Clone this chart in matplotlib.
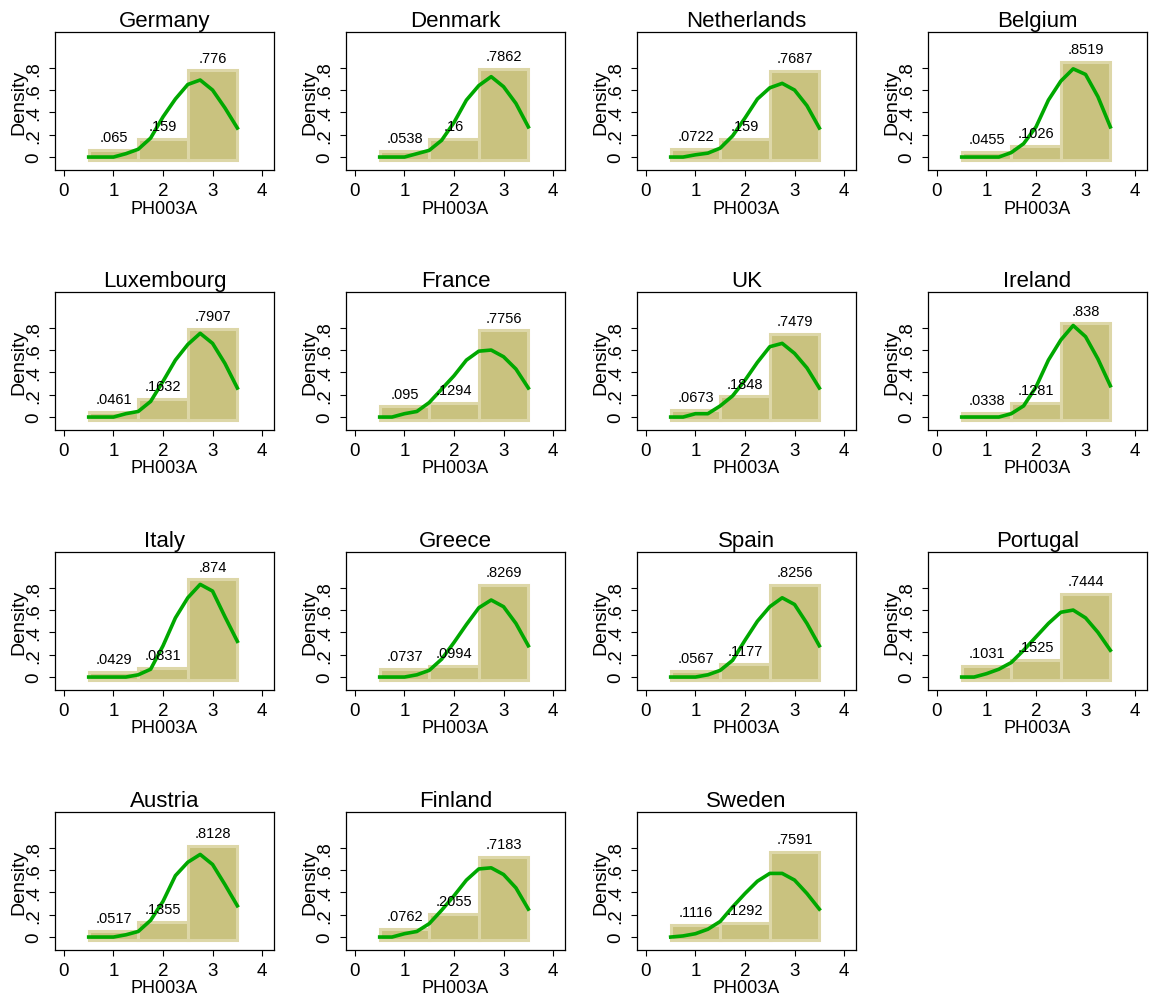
import matplotlib
matplotlib.use('Agg')
import matplotlib.pyplot as plt

plt.rcParams['font.family'] = ['Liberation Sans', 'DejaVu Sans']

countries = ['Germany', 'Denmark', 'Netherlands', 'Belgium',
             'Luxembourg', 'France', 'UK', 'Ireland',
             'Italy', 'Greece', 'Spain', 'Portugal',
             'Austria', 'Finland', 'Sweden']

# histogram densities for answers 1, 2, 3
categories = [1, 2, 3]
bar1 = [.065, .0538, .0722, .0455, .0461, .095, .0673, .0338, .0429, .0737, .0567, .1031, .0517, .0762, .1116]
bar2 = [.159, .16, .159, .1026, .1632, .1294, .1848, .1281, .0831, .0994, .1177, .1525, .1355, .2055, .1292]
bar3 = [.776, .7862, .7687, .8519, .7907, .7756, .7479, .838, .874, .8269, .8256, .7444, .8128, .7183, .7591]

# kernel density
kx = [0.5, 0.75, 1.0, 1.25, 1.5, 1.75, 2.0, 2.25, 2.5, 2.75, 3.0, 3.25, 3.5]
kd_germany     = [0, 0, 0, 0.03, 0.07, 0.17, 0.36, 0.52, 0.65, 0.69, 0.60, 0.44, 0.26]
kd_denmark     = [0, 0, 0, 0.03, 0.06, 0.15, 0.31, 0.51, 0.64, 0.72, 0.63, 0.48, 0.27]
kd_netherlands = [0, 0, 0.02, 0.035, 0.08, 0.19, 0.35, 0.52, 0.62, 0.66, 0.60, 0.46, 0.26]
kd_belgium     = [0, 0, 0, 0, 0.04, 0.12, 0.27, 0.51, 0.68, 0.79, 0.74, 0.54, 0.27]
kd_luxembourg  = [0, 0, 0, 0.03, 0.05, 0.14, 0.32, 0.51, 0.65, 0.75, 0.66, 0.48, 0.26]
kd_france      = [0, 0, 0.03, 0.05, 0.13, 0.25, 0.37, 0.51, 0.59, 0.60, 0.54, 0.43, 0.26]
kd_uk          = [0, 0, 0.03, 0.03, 0.10, 0.19, 0.33, 0.49, 0.63, 0.66, 0.57, 0.44, 0.26]
kd_ireland     = [0, 0, 0, 0, 0.03, 0.10, 0.27, 0.51, 0.69, 0.82, 0.72, 0.52, 0.28]
kd_italy       = [0, 0, 0, 0, 0.02, 0.07, 0.28, 0.53, 0.71, 0.83, 0.77, 0.54, 0.32]
kd_greece      = [0, 0, 0, 0.02, 0.06, 0.16, 0.31, 0.47, 0.62, 0.69, 0.63, 0.48, 0.28]
kd_spain       = [0, 0, 0, 0.02, 0.06, 0.15, 0.33, 0.50, 0.63, 0.71, 0.65, 0.48, 0.28]
kd_portugal    = [0, 0, 0.03, 0.07, 0.13, 0.24, 0.36, 0.48, 0.58, 0.60, 0.53, 0.40, 0.24]
kd_austria     = [0, 0, 0, 0.02, 0.05, 0.15, 0.32, 0.55, 0.67, 0.74, 0.65, 0.47, 0.28]
kd_finland     = [0, 0, 0.03, 0.05, 0.12, 0.24, 0.37, 0.51, 0.61, 0.62, 0.56, 0.44, 0.25]
kd_sweden      = [0, 0.01, 0.03, 0.07, 0.14, 0.27, 0.39, 0.50, 0.57, 0.57, 0.51, 0.39, 0.25]

kdens = [kd_germany, kd_denmark, kd_netherlands, kd_belgium,
         kd_luxembourg, kd_france, kd_uk, kd_ireland,
         kd_italy, kd_greece, kd_spain, kd_portugal,
         kd_austria, kd_finland, kd_sweden]

yticks = [0, .2, .4, .6, .8]
ytick_labels = ['0', '.2', '.4', '.6', '.8']
xticks = [0, 1, 2, 3, 4]

W, H = 1153, 1003
fig = plt.figure(figsize=(W / 100, H / 100), dpi=100)

col_left = [55, 346, 637, 928]
row_top = [33, 293, 553, 813]
bw, bh = 219, 138

fill = '#C9C27F'
edge = '#DDD7A8'
green = '#00A800'

for i, name in enumerate(countries):
    r, c = divmod(i, 4)
    ax = fig.add_axes([col_left[c] / W, 1 - (row_top[r] + bh) / H, bw / W, bh / H])
    heights = [bar1[i], bar2[i], bar3[i]]
    base = -0.025
    ax.bar(categories, [h - base for h in heights], width=1, bottom=base,
           color=fill, edgecolor=edge, linewidth=2.2, zorder=1)
    ax.plot(kx, kdens[i], color=green, lw=2.6, zorder=3)
    for x, h in zip(categories, heights):
        lab = ('%.4g' % h).lstrip('0')
        ax.text(x, h + 0.115, lab, ha='center', va='center', fontsize=10.5, zorder=4)
    ax.set_xlim(-0.18, 4.24)
    ax.set_ylim(-0.116, 1.12)
    ax.set_xticks(xticks)
    ax.set_yticks(yticks)
    ax.set_yticklabels(ytick_labels, rotation=90, va='center')
    ax.tick_params(labelsize=13.5, length=4, width=0.8, pad=5)
    ax.set_xlabel('PH003A', fontsize=13, labelpad=0)
    ax.set_ylabel('Density', fontsize=14, labelpad=-1)
    ax.set_title(name, fontsize=16, pad=4)
    for s in ax.spines.values():
        s.set_linewidth(0.9)

fig.savefig('out.png', dpi=100)
